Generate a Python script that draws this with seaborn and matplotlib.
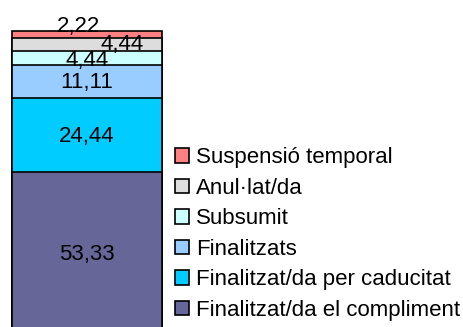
import numpy as np
import pandas as pd
import matplotlib
matplotlib.use("Agg")
import matplotlib.pyplot as plt
import seaborn as sns
from matplotlib.patches import Patch

# === Data (bottom to top) ===
categories = ["Finalitzat/da el compliment", "Finalitzat/da per caducitat", "Finalitzats",
              "Subsumit", "Anul·lat/da", "Suspensió temporal"]
values = [53.33, 24.44, 11.11, 4.44, 4.44, 2.22]
colors = ["#666699", "#00CCFF", "#99CCFF", "#CCFFFF", "#DDDDDD", "#FF8080"]

sns.set_style("white")
plt.rcParams["font.family"] = ["Liberation Sans", "DejaVu Sans"]
plt.rcParams["text.color"] = "black"
FS = 16

df = pd.DataFrame({"cat": categories, "val": values})
df["top"] = df["val"].cumsum()
df["mid"] = df["top"] - df["val"] / 2
df["x"] = "total"

fig = plt.figure(figsize=(4.63, 3.27), dpi=100)
ax = fig.add_axes([12 / 463, 0, 150 / 463, 296 / 327])

# stacked bar: draw cumulative totals from largest to smallest
for i in reversed(range(len(df))):
    sns.barplot(x=[df["x"][i]], y=[df["top"][i]], color=colors[i], width=1,
                edgecolor="black", linewidth=1.2, saturation=1, ax=ax)
for p in ax.patches:
    p.set_clip_on(False)

ax.set_xlim(-0.5, 0.5)
ax.set_ylim(2.3, 100)
ax.axis("off")

# data labels (offsets in points, mimicking the original placement)
offsets = [(0, -1), (0, -1), (0, -1), (0, -1.5), (25, 0), (-6, 6)]
for i, row in df.iterrows():
    ax.annotate(f"{row['val']:.2f}".replace(".", ","), xy=(0, row["mid"]),
                xytext=offsets[i], textcoords="offset points",
                ha="center", va="center", fontsize=FS, color="black",
                annotation_clip=False)

handles = [Patch(facecolor=c, edgecolor="black", linewidth=1.2) for c in colors]
fig.legend(handles[::-1], categories[::-1], loc="center left",
           bbox_to_anchor=(175 / 463, 1 - 234 / 327), frameon=False,
           fontsize=FS, borderpad=0, borderaxespad=0, handlelength=0.63,
           handleheight=0.63, handletextpad=0.3, labelspacing=0.43)

fig.savefig("out.png", dpi=100)
